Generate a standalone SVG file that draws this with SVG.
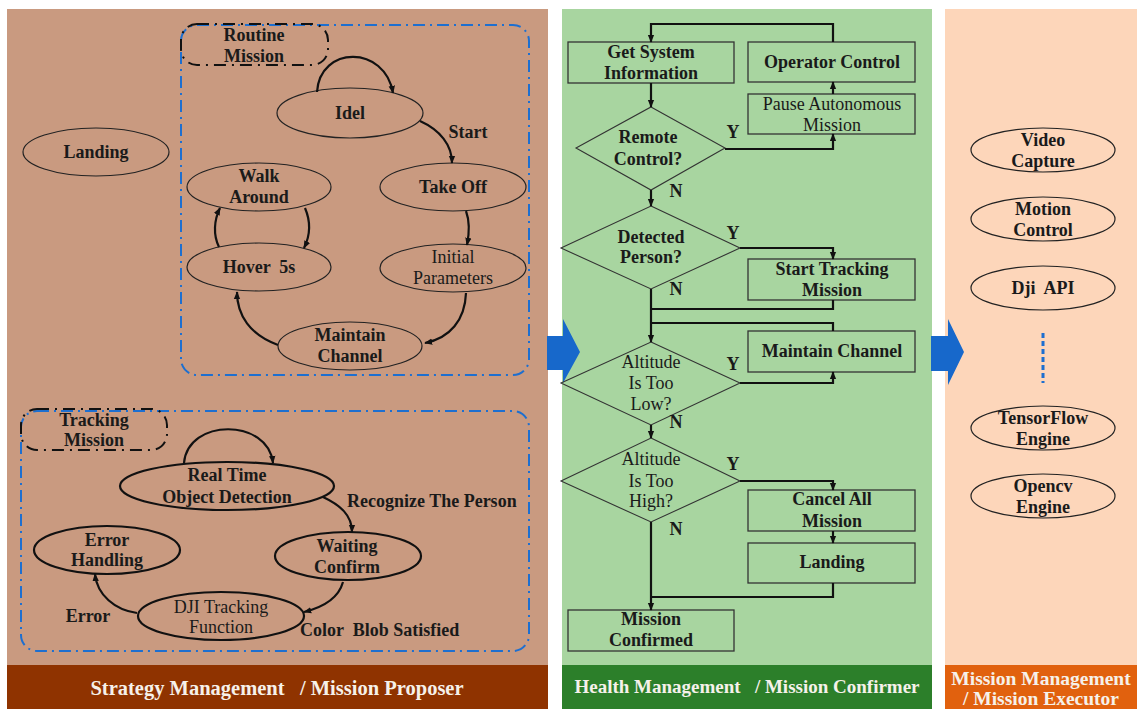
<svg xmlns="http://www.w3.org/2000/svg" width="1137" height="709" viewBox="0 0 1137 709">
<defs>
<marker id="ah" viewBox="0 0 10 10" refX="9" refY="5" markerWidth="8" markerHeight="8" markerUnits="userSpaceOnUse" orient="auto"><path d="M0,1 L10,5 L0,9 z" fill="#111"/></marker>
<style>
.t{font-family:"Liberation Serif","Times New Roman",serif;font-size:18px;fill:#1a1a1a;text-anchor:middle}
.b{font-weight:bold}
.s{text-anchor:start}
.ban{font-family:"Liberation Serif","Times New Roman",serif;font-weight:bold;fill:#f6f1ea;text-anchor:middle}
.e1{fill:none;stroke:#222;stroke-width:1.2}
.e2{fill:none;stroke:#111;stroke-width:2.2}
.box{fill:none;stroke:#333;stroke-width:1.3}
.dia{fill:none;stroke:#333;stroke-width:1.1}
.c{fill:none;stroke:#111;stroke-width:2.2}
.cm{fill:none;stroke:#111;stroke-width:2.2;marker-end:url(#ah)}
.blue{fill:none;stroke:#1d6fd0;stroke-width:2;stroke-dasharray:12 5 2 5}
.lab{fill:none;stroke:#111;stroke-width:2;stroke-dasharray:12 6 2 6}
</style>
</defs>
<rect width="1137" height="709" fill="#ffffff"/>
<g id="panels">
<rect x="7" y="9" width="541" height="656" fill="#C99A80"/>
<rect x="7" y="665" width="541" height="44" fill="#8F3300"/>
<rect x="562" y="9" width="370" height="656" fill="#A8D5A0"/>
<rect x="562" y="665" width="370" height="44" fill="#2C7F2A"/>
<rect x="945" y="9" width="192" height="656" fill="#FDD6BA"/>
<rect x="945" y="665" width="192" height="44" fill="#E1610E"/>
<text class="ban" x="277" y="695" font-size="20.5" xml:space="preserve">Strategy Management   / Mission Proposer</text>
<text class="ban" x="747" y="693" font-size="19" xml:space="preserve">Health Management   / Mission Confirmer</text>
<text class="ban" x="1041" y="685" font-size="19.5">Mission Management</text>
<text class="ban" x="1041" y="705" font-size="19.5">/ Mission Executor</text>
<path d="M547,336 H563 V319 L580,352 L563,383 V370 H547 Z" fill="#1768CB"/>
<path d="M931,336 H948 V319 L964,352 L948,385 V371 H931 Z" fill="#1768CB"/>
</g>
<g id="routine-mission">
<rect class="blue" x="181" y="25" width="348" height="350" rx="16"/>
<rect class="lab" x="181" y="24" width="147" height="41" rx="16"/>
<text class="t b" x="254" y="41">Routine</text>
<text class="t b" x="254" y="62">Mission</text>
</g>
<g id="tracking-mission">
<rect class="blue" x="21" y="411" width="508" height="240" rx="16"/>
<rect class="lab" x="21" y="409" width="146" height="41" rx="16"/>
<text class="t b" x="94" y="426">Tracking</text>
<text class="t b" x="94" y="446">Mission</text>
</g>
<g id="landing-state"><ellipse class="e1" cx="96" cy="152" rx="73" ry="24"/><text class="t b" x="96" y="158">Landing</text></g>
<g id="idel"><ellipse class="e1" cx="350" cy="113" rx="73" ry="25"/><text class="t b" x="350" y="119">Idel</text></g>
<g id="take-off"><ellipse class="e1" cx="453" cy="187" rx="73" ry="24"/><text class="t b" x="453" y="193">Take Off</text></g>
<g id="initial-parameters"><ellipse class="e1" cx="453" cy="268" rx="73" ry="24"/><text class="t" x="453" y="263">Initial</text><text class="t" x="453" y="284">Parameters</text></g>
<g id="maintain-channel-state"><ellipse class="e1" cx="350" cy="346" rx="72" ry="24"/><text class="t b" x="350" y="341">Maintain</text><text class="t b" x="350" y="362">Channel</text></g>
<g id="hover"><ellipse class="e1" cx="259" cy="267" rx="72" ry="24"/><text class="t b" x="259" y="273" xml:space="preserve">Hover  5s</text></g>
<g id="walk-around"><ellipse class="e1" cx="259" cy="187" rx="72" ry="24"/><text class="t b" x="259" y="182">Walk</text><text class="t b" x="259" y="203">Around</text></g>
<g id="real-time-detection"><ellipse class="e2" cx="227" cy="486" rx="107" ry="24"/><text class="t b" x="227" y="481">Real Time</text><text class="t b" x="227" y="503">Object Detection</text></g>
<g id="waiting-confirm"><ellipse class="e2" cx="348" cy="556" rx="73" ry="24"/><text class="t b" x="347" y="552">Waiting</text><text class="t b" x="347" y="573">Confirm</text></g>
<g id="dji-tracking"><ellipse class="e2" cx="221" cy="616" rx="83" ry="24"/><text class="t" x="221" y="613">DJI Tracking</text><text class="t" x="221" y="633">Function</text></g>
<g id="error-handling"><ellipse class="e2" cx="107" cy="550" rx="73" ry="24"/><text class="t b" x="107" y="546">Error</text><text class="t b" x="107" y="566">Handling</text></g>
<g id="get-system-info"><rect class="box" x="568" y="42" width="166" height="41"/><text class="t b" x="651" y="58">Get System</text><text class="t b" x="651" y="79">Information</text></g>
<g id="operator-control"><rect class="box" x="748" y="42" width="167" height="40"/><text class="t b" x="832" y="68">Operator Control</text></g>
<g id="pause-autonomous"><rect class="box" x="748" y="94" width="167" height="40"/><text class="t" x="832" y="110">Pause Autonomous</text><text class="t" x="832" y="131">Mission</text></g>
<g id="remote-control"><polygon class="dia" points="651,107 725,148 651,190 576,148"/><text class="t b" x="648" y="143">Remote</text><text class="t b" x="648" y="165">Control?</text></g>
<g id="detected-person"><polygon class="dia" points="651,206 740,248 651,289 561,248"/><text class="t b" x="651" y="243" font-size="15">Detected</text><text class="t b" x="651" y="263">Person?</text></g>
<g id="start-tracking"><rect class="box" x="748" y="259" width="167" height="41"/><text class="t b" x="832" y="275">Start Tracking</text><text class="t b" x="832" y="296">Mission</text></g>
<g id="altitude-low"><polygon class="dia" points="651,342 740,383 651,425 561,383"/><text class="t" x="651" y="368">Altitude</text><text class="t" x="651" y="389">Is Too</text><text class="t" x="651" y="410">Low?</text></g>
<g id="maintain-channel"><rect class="box" x="748" y="331" width="167" height="41"/><text class="t b" x="832" y="357">Maintain Channel</text></g>
<g id="altitude-high"><polygon class="dia" points="651,438 740,481 651,522 561,481"/><text class="t" x="651" y="465">Altitude</text><text class="t" x="651" y="487">Is Too</text><text class="t" x="651" y="507">High?</text></g>
<g id="cancel-all"><rect class="box" x="748" y="490" width="167" height="41"/><text class="t b" x="832" y="505">Cancel All</text><text class="t b" x="832" y="527">Mission</text></g>
<g id="landing"><rect class="box" x="748" y="543" width="167" height="40"/><text class="t b" x="832" y="568">Landing</text></g>
<g id="mission-confirmed"><rect class="box" x="568" y="610" width="166" height="41"/><text class="t b" x="651" y="625">Mission</text><text class="t b" x="651" y="646">Confirmed</text></g>
<g id="video-capture"><ellipse class="e1" cx="1043" cy="150" rx="72" ry="22"/><text class="t b" x="1043" y="146">Video</text><text class="t b" x="1043" y="167">Capture</text></g>
<g id="motion-control"><ellipse class="e1" cx="1043" cy="219" rx="72" ry="22"/><text class="t b" x="1043" y="215">Motion</text><text class="t b" x="1043" y="236">Control</text></g>
<g id="dji-api"><ellipse class="e1" cx="1043" cy="288" rx="72" ry="22"/><text class="t b" x="1043" y="294" xml:space="preserve">Dji  API</text></g>
<g id="tensorflow-engine"><ellipse class="e1" cx="1043" cy="428" rx="72" ry="22"/><text class="t b" x="1043" y="424">TensorFlow</text><text class="t b" x="1043" y="445">Engine</text></g>
<g id="opencv-engine"><ellipse class="e1" cx="1043" cy="496" rx="72" ry="22"/><text class="t b" x="1043" y="492">Opencv</text><text class="t b" x="1043" y="513">Engine</text></g>
<g id="connectors">
<path class="cm" d="M317,92 C320,45 385,45 393,93"/>
<path class="cm" d="M420,121 C440,130 452,145 452,163"/>
<path class="cm" d="M466,211 C470,222 469,235 467,245"/>
<path class="cm" d="M466,293 C465,320 450,338 425,343"/>
<path class="cm" d="M278,345 C250,335 237,315 237,292"/>
<path class="cm" d="M305,208 C311,222 310,236 304,248"/>
<path class="cm" d="M219,247 C213,235 214,220 220,208"/>
<path class="cm" d="M184,463 C188,418 268,418 273,463"/>
<path class="cm" d="M323,497 C340,505 352,515 352,532"/>
<path class="cm" d="M343,582 C338,600 320,608 304,612"/>
<path class="cm" d="M137,613 C115,610 97,595 95,574"/>
<path class="cm" d="M833,42 V24 H651 V42"/>
<path class="cm" d="M651,83 V107"/>
<path class="cm" d="M725,149 H833 V134"/>
<path class="cm" d="M833,94 V82"/>
<path class="cm" d="M651,190 V206"/>
<path class="cm" d="M740,248 H833 V259"/>
<path class="c" d="M833,300 V309 H651"/>
<path class="c" d="M833,331 V323 H651"/>
<path class="cm" d="M651,289 V342"/>
<path class="cm" d="M740,383 H833 V372"/>
<path class="cm" d="M651,425 V438"/>
<path class="cm" d="M740,481 H833 V490"/>
<path class="cm" d="M833,531 V543"/>
<path class="c" d="M833,583 V597 H651"/>
<path class="cm" d="M651,522 V610"/>
<line x1="1043" y1="333" x2="1043" y2="383" stroke="#1d6fd0" stroke-width="3" stroke-dasharray="5 3"/>
<text class="t b" x="468" y="138">Start</text>
<text class="t b s" x="347" y="507">Recognize The Person</text>
<text class="t b s" x="300" y="636" xml:space="preserve">Color  Blob Satisfied</text>
<text class="t b" x="88" y="622">Error</text>
<text class="t b" x="733" y="138">Y</text>
<text class="t b" x="733" y="239">Y</text>
<text class="t b" x="733" y="370">Y</text>
<text class="t b" x="733" y="470">Y</text>
<text class="t b" x="676" y="197">N</text>
<text class="t b" x="676" y="295">N</text>
<text class="t b" x="676" y="428">N</text>
<text class="t b" x="676" y="535">N</text>
</g>
</svg>
